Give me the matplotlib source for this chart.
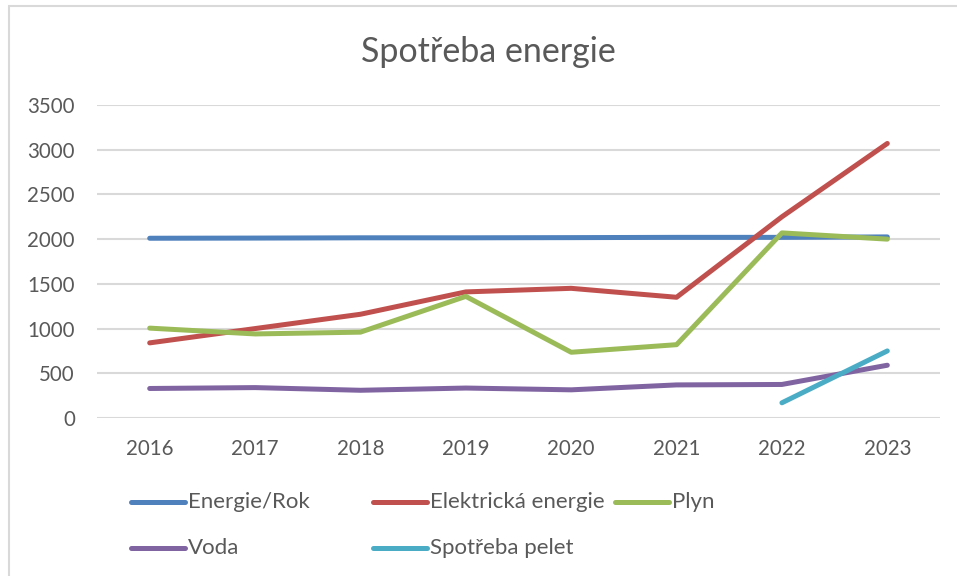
import matplotlib.pyplot as plt
from matplotlib.lines import Line2D
from matplotlib.patches import Rectangle

# data
years = ['2016', '2017', '2018', '2019', '2020', '2021', '2022', '2023']
energie_rok = [2010, 2012, 2015, 2015, 2017, 2020, 2020, 2025]
elektricka = [840, 1000, 1160, 1410, 1450, 1350, 2250, 3070]
plyn = [1005, 940, 960, 1360, 735, 820, 2070, 2000]
voda = [330, 340, 310, 335, 315, 370, 375, 590]
pelet_years = ['2022', '2023']
pelet = [170, 750]

names = ['Energie/Rok', 'Elektrická energie', 'Plyn', 'Voda', 'Spotřeba pelet']
colors = ['#4F81BD', '#C0504D', '#9BBB59', '#8064A2', '#4BACC6']

plt.rcParams['font.family'] = ['Lato', 'DejaVu Sans']
text_col = '#595959'
W, H = 957, 576

fig = plt.figure(figsize=(W / 100, H / 100), dpi=100)
ax = fig.add_axes([97 / W, 1 - 418 / H, (940 - 97) / W, (418 - 105) / H])

x = list(range(len(years)))
series = [energie_rok, elektricka, plyn, voda]
for vals, c in zip(series, colors[:4]):
    ax.plot(x, vals, color=c, lw=3.6, solid_capstyle='round', solid_joinstyle='round', zorder=3)
px = [years.index(y) for y in pelet_years]
ax.plot(px, pelet, color=colors[4], lw=3.6, solid_capstyle='round', zorder=3)

ax.set_xlim(-0.5, len(years) - 0.5)
ax.set_ylim(0, 3500)
ax.set_yticks(range(0, 3501, 500))
ax.set_xticks(x)
ax.set_xticklabels(years)
ax.grid(axis='y', color='#D9D9D9', lw=1.5, zorder=0)
for s in ax.spines.values():
    s.set_visible(False)
ax.tick_params(length=0, labelsize=14.8, labelcolor=text_col)
ax.tick_params(axis='y', pad=16)
ax.tick_params(axis='x', pad=15)

# title
fig.text(488 / W, 1 - 52 / H, 'Spotřeba energie', ha='center', va='center',
         fontsize=24.5, color=text_col)

# legend drawn like excel: fixed column grid
for i, (name, c) in enumerate(zip(names, colors)):
    row, col = divmod(i, 3)
    x0 = 131 + col * 242
    yy = 1 - (502 + row * 46) / H
    fig.add_artist(Line2D([x0 / W, (x0 + 54) / W], [yy, yy], transform=fig.transFigure,
                          color=c, lw=3.6, solid_capstyle='round'))
    fig.text((x0 + 57) / W, yy, name, ha='left', va='center', fontsize=16, color=text_col)

# chart border
fig.add_artist(Rectangle((9 / W, -0.5), 2, 1.5 - 6 / H, transform=fig.transFigure,
                         fill=False, edgecolor='#D9D9D9', lw=1.5))

fig.savefig('out.png', dpi=100)
